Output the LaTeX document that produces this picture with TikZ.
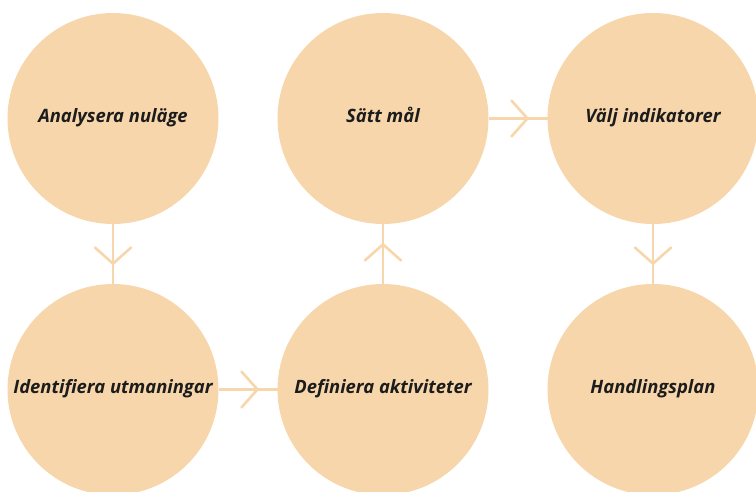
\documentclass[tikz,border=0pt]{standalone}
\usepackage{fontspec}
\setmainfont{Open Sans}
\usetikzlibrary{decorations.markings}
\definecolor{peach}{HTML}{F7D6AB}
\definecolor{ink}{HTML}{1C1C1C}
\tikzset{
  stepcircle/.style={circle, fill=peach, draw=none, minimum size=211pt, inner sep=0pt, outer sep=0pt,
    font=\fontsize{18.4}{22}\selectfont\bfseries\itshape, text=ink, text height=.95em, text depth=.2em},
  flow/.style={draw=peach, line width=2.6pt, postaction={decorate},
    decoration={markings, mark=at position 0.66 with {\draw[peach, line width=2.6pt, line cap=round, line join=miter] (-16pt,18pt) -- (0,0) -- (-16pt,-18pt);}}}
}
\begin{document}
\begin{tikzpicture}[x=1pt,y=-1pt]
\useasboundingbox (0,0) rectangle (756,492);
\node[stepcircle] (a) at (113,118.5) {Analysera nuläge};
\node[stepcircle] (b) at (113,389.5) {Identifiera utmaningar};
\node[stepcircle] (c) at (383,389.5) {Definiera aktiviteter};
\node[stepcircle] (d) at (383,118.5) {Sätt mål};
\node[stepcircle] (e) at (653,118.5) {Välj indikatorer};
\node[stepcircle] (f) at (653,389.5) {Handlingsplan};
\draw[flow] (a) -- (b);
\draw[flow] (b) -- (c);
\draw[flow] (c) -- (d);
\draw[flow] (d) -- (e);
\draw[flow] (e) -- (f);
\end{tikzpicture}
\end{document}
